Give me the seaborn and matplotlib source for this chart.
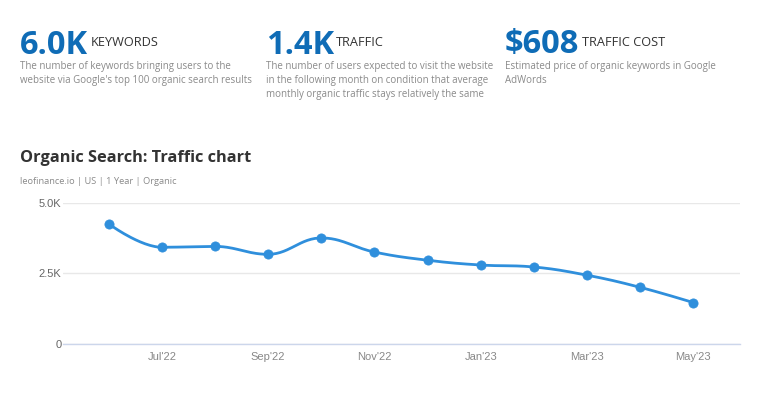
import numpy as np
import pandas as pd
import matplotlib.pyplot as plt
import seaborn as sns

months = ["Jun'22", "Jul'22", "Aug'22", "Sep'22", "Oct'22", "Nov'22",
          "Dec'22", "Jan'23", "Feb'23", "Mar'23", "Apr'23", "May'23"]
traffic = [4250, 3420, 3450, 3170, 3750, 3250, 2960, 2790, 2720, 2430, 2000, 1460]
yticks = [0, 2500, 5000]
ytick_labels = ["0", "2.5K", "5.0K"]

metrics = ["6.0K", "1.4K", "$608"]
metric_names = ["KEYWORDS", "TRAFFIC", "TRAFFIC COST"]
metric_notes = [
    "The number of keywords bringing users to the\nwebsite via Google's top 100 organic search results",
    "The number of users expected to visit the website\nin the following month on condition that average\nmonthly organic traffic stays relatively the same",
    "Estimated price of organic keywords in Google\nAdWords",
]

sns.set_theme(style="white")
plt.rcParams['font.family'] = ['Open Sans', 'DejaVu Sans']

df = pd.DataFrame({"i": np.arange(len(months)), "traffic": traffic})

# highcharts-like spline through the points, only for drawing the line
def spline(x, y, n=30, sm=1.5):
    x = np.asarray(x, float); y = np.asarray(y, float)
    N = len(x)
    lc = np.column_stack([x, y]).copy()
    rc = lc.copy()
    for k in range(1, N-1):
        lx = (sm*x[k] + x[k-1])/(sm+1); ly = (sm*y[k] + y[k-1])/(sm+1)
        rx = (sm*x[k] + x[k+1])/(sm+1); ry = (sm*y[k] + y[k+1])/(sm+1)
        corr = (ry - ly)*(rx - x[k])/(rx - lx) + y[k] - ry
        ly += corr; ry += corr
        if ly > y[k-1] and ly > y[k]:
            ly = max(y[k-1], y[k]); ry = 2*y[k] - ly
        elif ly < y[k-1] and ly < y[k]:
            ly = min(y[k-1], y[k]); ry = 2*y[k] - ly
        if ry > y[k+1] and ry > y[k]:
            ry = max(y[k+1], y[k]); ly = 2*y[k] - ry
        elif ry < y[k+1] and ry < y[k]:
            ry = min(y[k+1], y[k]); ly = 2*y[k] - ry
        lc[k] = [lx, ly]; rc[k] = [rx, ry]
    t = np.linspace(0, 1, n)[:, None]
    segs = []
    for k in range(N-1):
        p0 = np.array([x[k], y[k]]); p3 = np.array([x[k+1], y[k+1]])
        p1 = rc[k]; p2 = lc[k+1]
        segs.append((1-t)**3*p0 + 3*(1-t)**2*t*p1 + 3*(1-t)*t**2*p2 + t**3*p3)
    pts = np.vstack(segs)
    return pts[:, 0], pts[:, 1]

sx, sy = spline(df["i"], df["traffic"])
curve = pd.DataFrame({"i": sx, "traffic": sy})

W, H = 768, 394
fig = plt.figure(figsize=(W/100, H/100), dpi=100)
ax = fig.add_axes([63/W, 1-343.7/H, (740-63)/W, (343.7-202.7)/H])

blue = "#2f8fdc"
sns.lineplot(data=curve, x="i", y="traffic", ax=ax, color=blue, lw=2, sort=False)
sns.scatterplot(data=df, x="i", y="traffic", ax=ax, color=blue, s=44, edgecolor=blue, zorder=3)

ax.set_xlim(-0.86, 11.88)
ax.set_ylim(0, 5000)
ax.set_yticks(yticks)
ax.set_yticklabels(ytick_labels, fontsize=8, color="#666666", family="Liberation Sans")
ax.set_xticks(df["i"][1::2])
ax.set_xticklabels(months[1::2], fontsize=8, color="#888888", family="Liberation Sans")
ax.set_xlabel("")
ax.set_ylabel("")
ax.tick_params(axis="y", length=0, pad=1)
ax.tick_params(axis="x", length=0, pad=6)
ax.yaxis.grid(True, color="#e8e8e8", lw=1)
ax.set_axisbelow(True)
for s in ["top", "right", "left"]:
    ax.spines[s].set_visible(False)
ax.spines["bottom"].set_color("#ccd6eb")
ax.spines["bottom"].set_linewidth(1)

# header metrics
xs_num = [20, 266, 505]
xs_lab = [91, 336, 582]
for xn, xl, m, name, note in zip(xs_num, xs_lab, metrics, metric_names, metric_notes):
    fig.text(xn/W, 1-53.5/H, m, fontsize=23.5, fontweight="bold", color="#0f6cb6", va="baseline")
    fig.text(xl/W, 1-46.5/H, name, fontsize=9.2, color="#333333", va="baseline")
    fig.text(xn/W, 1-60.5/H, note, fontsize=7.0, color="#8a8a8a", va="top", linespacing=1.42)

fig.text(20/W, 1-158/H, "Organic Search: Traffic chart", fontsize=11.8, fontweight="bold",
         color="#333333", va="center")
fig.text(20/W, 1-181/H, "leofinance.io | US | 1 Year | Organic", fontsize=6.7,
         color="#8a8a8a", va="center")

fig.savefig("out.png", dpi=100)
